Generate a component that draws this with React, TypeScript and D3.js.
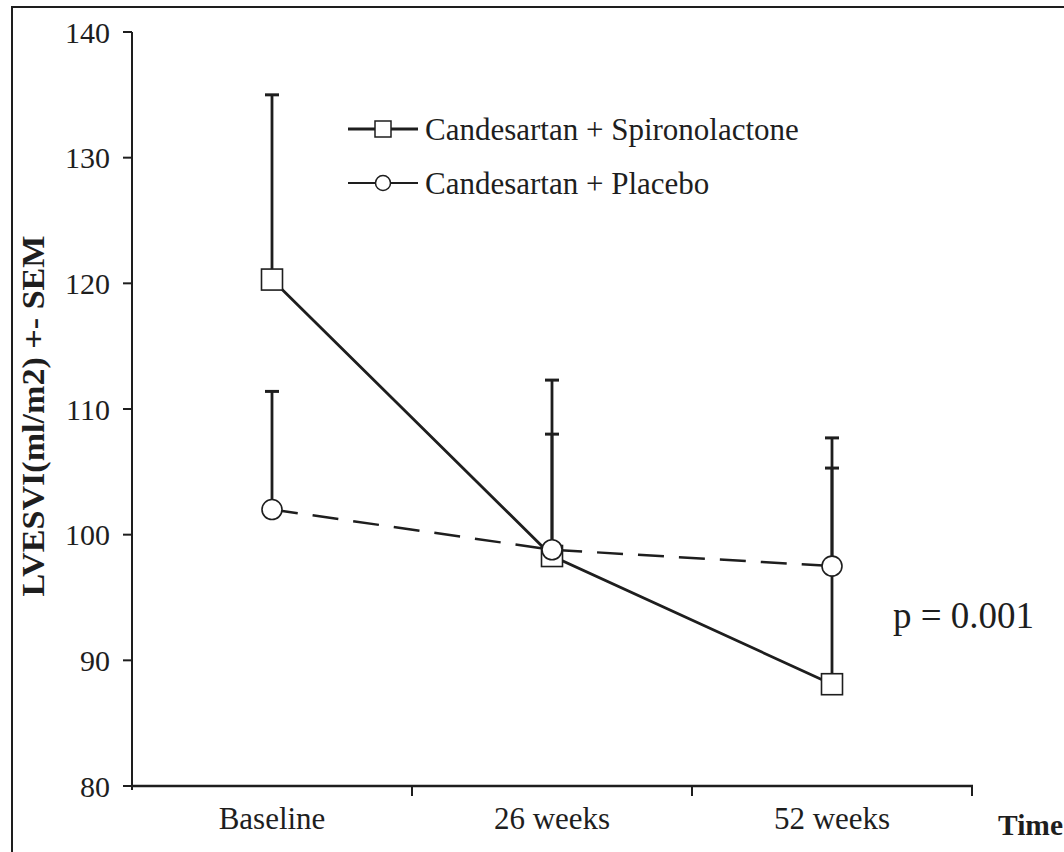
import React from "react";
import * as d3 from "d3";

// Time points on the x axis
const timePoints = ["Baseline", "26 weeks", "52 weeks"];

// Mean LVESVI (ml/m2) per group
const spiroMeans = [120.3, 98.3, 88.1];
const placeboMeans = [102.0, 98.8, 97.5];

// Upper SEM bound per group
const spiroUpper = [135.0, 112.3, 107.7];
const placeboUpper = [111.4, 108.0, 105.3];

// Y axis ticks
const yTicks = [80, 90, 100, 110, 120, 130, 140];

const seriesNames = ["Candesartan + Spironolactone", "Candesartan + Placebo"];
const pValueText = "p = 0.001";

const W = 1064;
const H = 852;
const serif = "\"Liberation Serif\", Tinos, \"Times New Roman\", Times, serif";
const ink = "#1e1e1e";

export default function App() {
  const x = d3.scaleBand<string>().domain(timePoints).range([132, 972]).padding(0);
  const y = d3.scaleLinear().domain([80, 140]).range([786, 32]);
  const cx = (i: number) => (x(timePoints[i]) as number) + x.bandwidth() / 2;

  const line = d3
    .line<number>()
    .x((_, i) => cx(i))
    .y((v) => y(v));

  const sq = 21;
  const r = 10;
  const txt = { fontFamily: serif };

  return (
    <svg
      width={W}
      height={H}
      style={{ position: "absolute", left: 0, top: 0, background: "#fff", fontFamily: serif }}
    >
      {/* outer frame */}
      <rect x={12} y={7} width={1200} height={1000} fill="none" stroke={ink} strokeWidth={2} />

      {/* y axis */}
      <line x1={132} x2={132} y1={y(140)} y2={y(80) + 4} stroke={ink} strokeWidth={2} />
      {yTicks.map((t) => (
        <g key={t}>
          <line x1={123} x2={132} y1={y(t)} y2={y(t)} stroke={ink} strokeWidth={2} />
          <text
            x={110}
            y={y(t)}
            dy="0.35em"
            textAnchor="end"
            fontSize={30}
            fill={ink}
            style={txt}
          >
            {t}
          </text>
        </g>
      ))}

      {/* x axis */}
      <line x1={132} x2={973} y1={y(80)} y2={y(80)} stroke={ink} strokeWidth={2.5} />
      {timePoints.map((c) => {
        const x1 = (x(c) as number) + x.bandwidth();
        return <line key={c} x1={x1} x2={x1} y1={y(80)} y2={y(80) + 10} stroke={ink} strokeWidth={2} />;
      })}
      {timePoints.map((c, i) => (
        <text key={c} x={cx(i)} y={829} textAnchor="middle" fontSize={31} fill={ink} style={txt}>
          {c}
        </text>
      ))}
      <text x={998} y={835} fontSize={29.5} fontWeight="bold" fill={ink} style={txt}>
        Time
      </text>

      {/* y axis title */}
      <text
        transform={`translate(44,416) rotate(-90) scale(1.1,1)`}
        textAnchor="middle"
        fontSize={31}
        fontWeight="bold"
        fill={ink}
        style={txt}
      >
        LVESVI(ml/m2) +- SEM
      </text>

      {/* series lines */}
      <path d={line(placeboMeans) || ""} fill="none" stroke={ink} strokeWidth={2.5} strokeDasharray="26 15" />
      <path d={line(spiroMeans) || ""} fill="none" stroke={ink} strokeWidth={2.8} />

      {/* SEM error bars */}
      {[spiroMeans, placeboMeans].map((means, s) =>
        means.map((m, i) => {
          const up = s === 0 ? spiroUpper[i] : placeboUpper[i];
          return (
            <g key={`${s}-${i}`}>
              <line x1={cx(i)} x2={cx(i)} y1={y(m)} y2={y(up)} stroke={ink} strokeWidth={2.8} />
              <line x1={cx(i) - 7} x2={cx(i) + 7} y1={y(up)} y2={y(up)} stroke={ink} strokeWidth={3} />
            </g>
          );
        })
      )}

      {/* markers */}
      {spiroMeans.map((m, i) => (
        <rect
          key={`s${i}`}
          x={cx(i) - sq / 2}
          y={y(m) - sq / 2}
          width={sq}
          height={sq}
          fill="#fff"
          stroke={ink}
          strokeWidth={1.6}
        />
      ))}
      {placeboMeans.map((m, i) => (
        <circle key={`p${i}`} cx={cx(i)} cy={y(m)} r={r} fill="#fff" stroke={ink} strokeWidth={1.6} />
      ))}

      {/* legend */}
      <g>
        <line x1={348} x2={418} y1={129} y2={129} stroke={ink} strokeWidth={3} />
        <rect x={375} y={121} width={16} height={16} fill="#fff" stroke={ink} strokeWidth={1.5} />
        <text x={425} y={129} dy="0.35em" fontSize={31} fill={ink} style={txt}>
          {seriesNames[0]}
        </text>
        <line x1={348} x2={418} y1={183} y2={183} stroke={ink} strokeWidth={2} />
        <circle cx={383} cy={183} r={7.5} fill="#fff" stroke={ink} strokeWidth={1.5} />
        <text x={425} y={183} dy="0.35em" fontSize={31} fill={ink} style={txt}>
          {seriesNames[1]}
        </text>
      </g>

      {/* significance annotation */}
      <text x={893} y={628} fontSize={37} fill={ink} style={txt}>
        {pValueText}
      </text>
    </svg>
  );
}
